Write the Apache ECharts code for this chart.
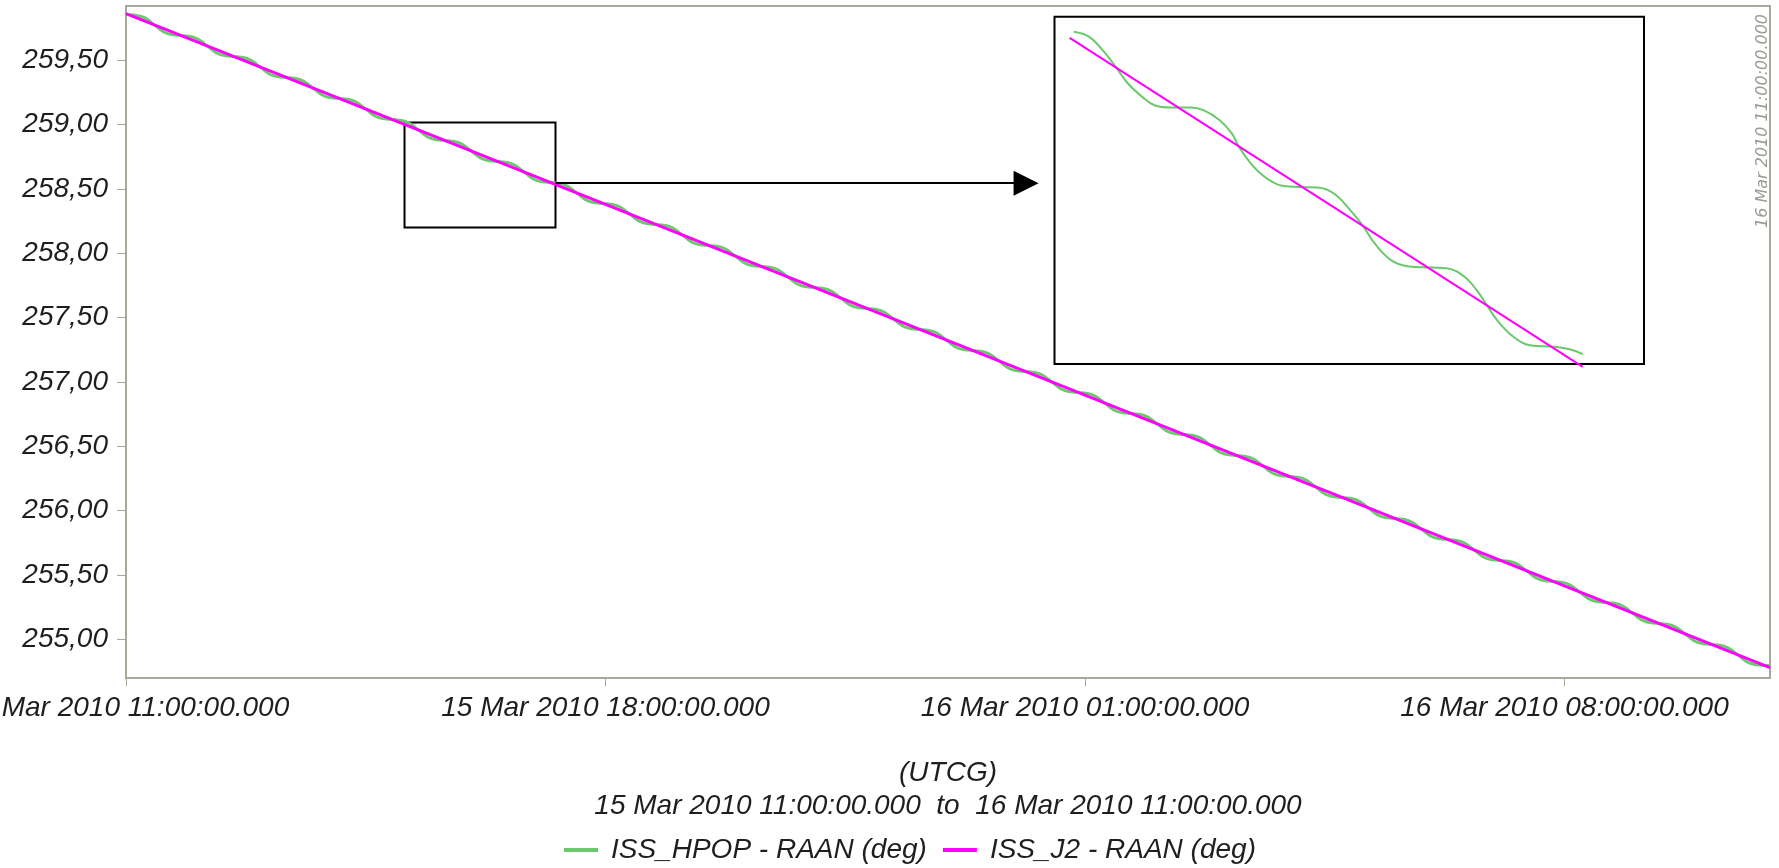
<!DOCTYPE html>
<html><head><meta charset="utf-8">
<script src="https://cdn.jsdelivr.net/npm/echarts@6/dist/echarts.min.js"></script>
<style>html,body{margin:0;padding:0;background:#fff}#c{width:1779px;height:868px}</style>
</head><body><div id="c"></div>
<script>
// ---- data (hours since 15 Mar 2010 11:00:00 UTCG, RAAN in degrees) ----
const rangeStart = '15 Mar 2010 11:00:00.000';
const rangeEnd = '16 Mar 2010 11:00:00.000';
const xTickHours = [0, 7, 14, 21];
const xTickLabels = ['15 Mar 2010 11:00:00.000', '15 Mar 2010 18:00:00.000', '16 Mar 2010 01:00:00.000', '16 Mar 2010 08:00:00.000'];
const yTicks = [255, 255.5, 256, 256.5, 257, 257.5, 258, 258.5, 259, 259.5];
const seriesNames = ['ISS_HPOP - RAAN (deg)', 'ISS_J2 - RAAN (deg)'];

const j2Hours = [0, 6, 12, 18, 24];
const j2Raan = [259.86, 258.59, 257.32, 256.05, 254.78];

const hpopHours = [0.000,0.224,0.416,
0.609,0.802,0.994,1.187, 1.380,1.572,1.765,1.957, 2.150,2.343,2.535,2.728, 2.921,3.113,3.306,3.498,
3.691,3.884,4.076,4.269, 4.462,4.654,4.847,5.039, 5.232,5.425,5.617,5.810, 6.003,6.195,6.388,6.580,
6.773,6.966,7.158,7.351, 7.544,7.736,7.929,8.121, 8.314,8.507,8.699,8.892, 9.085,9.277,9.470,9.662,
9.855,10.048,10.240,10.433, 10.626,10.818,11.011,11.203, 11.396,11.589,11.781,11.974, 12.167,12.359,12.552,12.744,
12.937,13.130,13.322,13.515, 13.708,13.900,14.093,14.285, 14.478,14.671,14.863,15.056, 15.249,15.441,15.634,15.826,
16.019,16.212,16.404,16.597, 16.790,16.982,17.175,17.367, 17.560,17.753,17.945,18.138, 18.331,18.523,18.716,18.908,
19.101,19.294,19.486,19.679, 19.872,20.064,20.257,20.449, 20.642,20.835,21.027,21.220, 21.413,21.605,21.798,21.990,
22.183,22.376,22.568,22.761, 22.954,23.146,23.339,23.531, 23.724,23.917,24.000];
const hpopRaan = [259.8535,259.8386,259.7719,
259.7051,259.6903,259.6756,259.6088, 259.5420,259.5272,259.5125,259.4457, 259.3789,259.3641,259.3494,259.2826, 259.2158,259.2010,259.1863,259.1195,
259.0527,259.0379,259.0232,258.9564, 258.8896,258.8748,258.8601,258.7933, 258.7265,258.7117,258.6970,258.6302, 258.5634,258.5486,258.5339,258.4671,
258.4004,258.3856,258.3709,258.3041, 258.2373,258.2225,258.2078,258.1410, 258.0742,258.0594,258.0447,257.9779, 257.9111,257.8963,257.8816,257.8148,
257.7480,257.7332,257.7185,257.6517, 257.5849,257.5701,257.5554,257.4886, 257.4218,257.4070,257.3923,257.3255, 257.2587,257.2439,257.2292,257.1624,
257.0956,257.0808,257.0661,256.9993, 256.9325,256.9177,256.9030,256.8362, 256.7694,256.7546,256.7399,256.6731, 256.6063,256.5915,256.5768,256.5100,
256.4433,256.4285,256.4138,256.3470, 256.2802,256.2654,256.2507,256.1839, 256.1171,256.1023,256.0876,256.0208, 255.9540,255.9392,255.9245,255.8577,
255.7909,255.7761,255.7614,255.6946, 255.6278,255.6130,255.5983,255.5315, 255.4647,255.4499,255.4352,255.3684, 255.3016,255.2868,255.2721,255.2053,
255.1385,255.1237,255.1090,255.0422, 254.9754,254.9606,254.9459,254.8791, 254.8123,254.7975,254.7963];

// zoom window drawn on the main chart, and the arrow to the inset
const zoomHours = [4.066, 6.27];
const zoomRaan = [258.199, 259.015];
const arrowHours = [6.27, 13.14];
const arrowRaan = 258.544;

// magnified inset
const insetHourRange = [4.001, 6.531];
const insetRaanRange = [258.544, 259.038];
const insetJ2Hours = [4.066, 6.268];
const insetJ2Raan = [259.008, 258.540];
const insetHpopHours = [4.0834,4.1499,4.2200,4.2637,4.3162,4.3775,4.4300,4.5000,4.5875,4.6401,4.7101,4.7626,4.7888,4.8326,4.8851,4.9551,5.0251,5.1302,5.2002,5.2702,5.3227,5.3752,5.4452,5.5152,5.6203,5.6903,5.7603,5.8128,5.8566,5.9003,5.9704,6.0404,6.1454,6.2154,6.2679];
const insetHpopRaan = [259.0166,259.0094,258.9857,258.9668,258.9431,258.9241,258.9122,258.9089,258.9089,258.9051,258.8909,258.8719,258.8553,258.8340,258.8150,258.7999,258.7961,258.7951,258.7866,258.7629,258.7415,258.7155,258.6918,258.6832,258.6813,258.6799,258.6681,258.6491,258.6277,258.6064,258.5827,258.5708,258.5685,258.5647,258.5580];

// ---- chart ----
const zip = (a, b) => a.map((v, i) => [v, b[i]]);
const GREEN = '#6cc86c', MAGENTA = '#ff00ff', AXIS = '#aca899';
const FONT = 'Liberation Sans';
const labelStyle = { fontFamily: FONT, fontStyle: 'italic', fontSize: 28, color: '#1e1e1e' };

const chart = echarts.init(document.getElementById('c'), null, { renderer: 'canvas' });
chart.setOption({
  backgroundColor: '#fff',
  animation: false,
  grid: [
    { left: 126, right: 9, top: 6, bottom: 190, show: true, borderColor: AXIS, borderWidth: 2,
      containLabel: false, outerBoundsMode: 'none' },
    { left: 1054.5, top: 16.8, width: 589.5, height: 347.2, show: true, borderColor: '#000', borderWidth: 2,
      backgroundColor: '#fff', containLabel: false, outerBoundsMode: 'none' }
  ],
  xAxis: [
    { type: 'value', gridIndex: 0, min: 0, max: 24,
      axisLine: { show: true, lineStyle: { color: AXIS, width: 2 } },
      axisTick: { show: true, length: 8, lineStyle: { color: AXIS, width: 1 }, customValues: xTickHours },
      axisLabel: Object.assign({ margin: 16, customValues: xTickHours,
        formatter: v => { const i = xTickHours.indexOf(v); return i >= 0 ? xTickLabels[i] : ''; } }, labelStyle),
      splitLine: { show: false } },
    { type: 'value', gridIndex: 1, min: insetHourRange[0], max: insetHourRange[1], show: false }
  ],
  yAxis: [
    { type: 'value', gridIndex: 0, min: 254.70, max: 259.92,
      axisLine: { show: true, lineStyle: { color: AXIS, width: 2 } },
      axisTick: { show: true, length: 9, lineStyle: { color: AXIS, width: 1 }, customValues: yTicks },
      axisLabel: Object.assign({ margin: 18, customValues: yTicks,
        formatter: v => v.toFixed(2).replace('.', ',') }, labelStyle),
      splitLine: { show: false } },
    { type: 'value', gridIndex: 1, min: insetRaanRange[0], max: insetRaanRange[1], show: false }
  ],
  legend: {
    data: seriesNames, left: 564, top: 836, padding: 0, itemWidth: 34, itemHeight: 4, itemGap: 16, icon: 'rect',
    textStyle: Object.assign({ padding: [0, 0, 0, 8] }, labelStyle)
  },
  graphic: [
    { type: 'text', x: 948, y: 773, style: { text: '(UTCG)', align: 'center', verticalAlign: 'middle',
      font: 'italic 28px "' + FONT + '"', fill: '#1e1e1e' } },
    { type: 'text', x: 948, y: 806, style: { text: rangeStart + '  to  ' + rangeEnd, align: 'center', verticalAlign: 'middle',
      font: 'italic 28px "' + FONT + '"', fill: '#1e1e1e' } },
    { type: 'text', x: 1763, y: 121, rotation: Math.PI / 2, style: { text: rangeEnd, align: 'center', verticalAlign: 'middle',
      font: 'italic 16px "DejaVu Sans"', fill: '#9a9a9a' } }
  ],
  series: [
    { name: seriesNames[0], type: 'line', xAxisIndex: 0, yAxisIndex: 0, data: zip(hpopHours, hpopRaan),
      showSymbol: false, smooth: 0.5, lineStyle: { color: GREEN, width: 3 }, itemStyle: { color: GREEN } },
    { name: seriesNames[1], type: 'line', xAxisIndex: 0, yAxisIndex: 0, data: zip(j2Hours, j2Raan),
      showSymbol: false, lineStyle: { color: MAGENTA, width: 3 }, itemStyle: { color: MAGENTA },
      markArea: { silent: true, label: { show: false },
        itemStyle: { color: 'rgba(0,0,0,0)', borderColor: '#000', borderWidth: 2 },
        data: [[{ coord: [zoomHours[0], zoomRaan[1]] }, { coord: [zoomHours[1], zoomRaan[0]] }]] },
      markLine: { silent: true, symbol: ['none', 'triangle'], symbolSize: [25, 25], label: { show: false },
        lineStyle: { color: '#000', width: 2, type: 'solid' }, itemStyle: { color: '#000' },
        data: [[{ coord: [arrowHours[0], arrowRaan] }, { coord: [arrowHours[1], arrowRaan] }]] } },
    { name: 'inset HPOP', type: 'line', xAxisIndex: 1, yAxisIndex: 1, data: zip(insetHpopHours, insetHpopRaan),
      showSymbol: false, smooth: 0.4, clip: false, lineStyle: { color: GREEN, width: 2 } },
    { name: 'inset J2', type: 'line', xAxisIndex: 1, yAxisIndex: 1, data: zip(insetJ2Hours, insetJ2Raan),
      showSymbol: false, clip: false, lineStyle: { color: MAGENTA, width: 2 } }
  ]
});
</script></body></html>
